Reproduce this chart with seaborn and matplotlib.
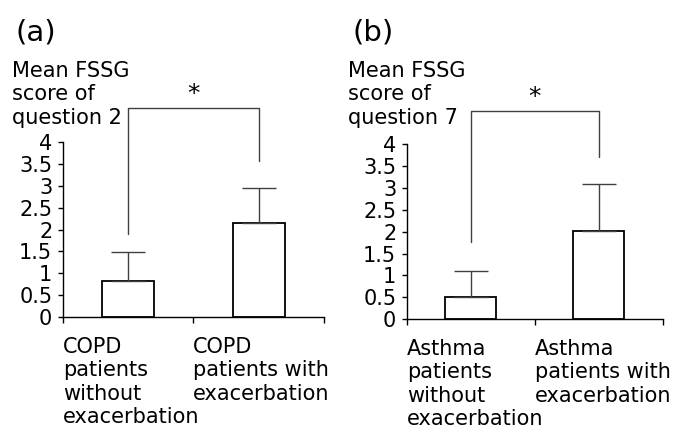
import matplotlib
matplotlib.use("Agg")
import matplotlib.pyplot as plt
import seaborn as sns
import pandas as pd

# ---- data ----
groups_a = ["COPD without exacerbation", "COPD with exacerbation"]
labels_a = ["COPD\npatients\nwithout\nexacerbation", "COPD\npatients with\nexacerbation"]
means_a = [0.83, 2.15]
sd_a = [0.66, 0.79]
bracket_a = [1.89, 4.77, 3.57]   # left foot, top, right foot

groups_b = ["Asthma without exacerbation", "Asthma with exacerbation"]
labels_b = ["Asthma\npatients\nwithout\nexacerbation", "Asthma\npatients with\nexacerbation"]
means_b = [0.51, 2.02]
sd_b = [0.60, 1.07]
bracket_b = [1.77, 4.75, 3.71]

yticks = [0, 0.5, 1, 1.5, 2, 2.5, 3, 3.5, 4]
ytick_labels = ["0", "0.5", "1", "1.5", "2", "2.5", "3", "3.5", "4"]
ylabel_a = "Mean FSSG\nscore of\nquestion 2"
ylabel_b = "Mean FSSG\nscore of\nquestion 7"

sns.set_theme(style="white")
plt.rcParams['font.family'] = ['DejaVu Sans']
plt.rcParams['text.color'] = 'black'
plt.rcParams['xtick.labelcolor'] = 'black'
plt.rcParams['ytick.labelcolor'] = 'black'

FS = 15
LS = 1.22
fig = plt.figure(figsize=(6.78, 4.29), dpi=100)
W, H = 678, 429
ax_a = fig.add_axes([62.7 / W, 1 - 317.3 / H, 261.3 / W, 175.6 / H])
ax_b = fig.add_axes([406.7 / W, 1 - 319.3 / H, 256.0 / W, 175.3 / H])


def draw(ax, groups, labels, means, sds, bracket):
    df = pd.DataFrame({"group": groups, "mean": means})
    sns.barplot(data=df, x="group", y="mean", ax=ax, color="white",
                edgecolor="black", linewidth=1.3, width=0.4, errorbar=None,
                saturation=1)
    ax.errorbar(x=list(range(len(groups))), y=means,
                yerr=[[0] * len(sds), sds], fmt="none", ecolor="#404040",
                elinewidth=1.0, capsize=12, capthick=1.0)
    ax.plot([0, 0, 1, 1], [bracket[0], bracket[1], bracket[1], bracket[2]],
            color="#404040", lw=1.0, clip_on=False)
    ax.text(0.5, bracket[1] + 0.04, "*", ha="center", va="bottom",
            fontsize=18, color="black", clip_on=False)
    ax.set_xlim(-0.5, 1.5)
    ax.set_ylim(0, 4)
    ax.set_yticks(yticks)
    ax.set_yticklabels(ytick_labels, fontsize=FS)
    ax.set_xticks([-0.5, 0.5, 1.5])
    ax.set_xticklabels(labels + [""], fontsize=FS, ha="left",
                       linespacing=LS)
    ax.tick_params(axis="x", bottom=True, direction="out", length=4,
                   width=1, pad=10, color="black")
    ax.tick_params(axis="y", left=True, direction="out", length=3.5,
                   width=1, pad=4, color="black")
    ax.set_xlabel("")
    ax.set_ylabel("")
    for s in ["top", "right"]:
        ax.spines[s].set_visible(False)
    for s in ["left", "bottom"]:
        ax.spines[s].set_color("black")
        ax.spines[s].set_linewidth(1)


draw(ax_a, groups_a, labels_a, means_a, sd_a, bracket_a)
draw(ax_b, groups_b, labels_b, means_b, sd_b, bracket_b)

fig.text(15 / W, 1 - 40 / H, "(a)", fontsize=21, va="baseline", ha="left")
fig.text(352.7 / W, 1 - 40 / H, "(b)", fontsize=21, va="baseline", ha="left")
fig.text(11.7 / W, 1 - 124 / H, ylabel_a, fontsize=FS, va="baseline",
         ha="left", linespacing=LS)
fig.text(348.3 / W, 1 - 124 / H, ylabel_b, fontsize=FS, va="baseline",
         ha="left", linespacing=LS)

fig.savefig("out.png", dpi=100, facecolor="white")
